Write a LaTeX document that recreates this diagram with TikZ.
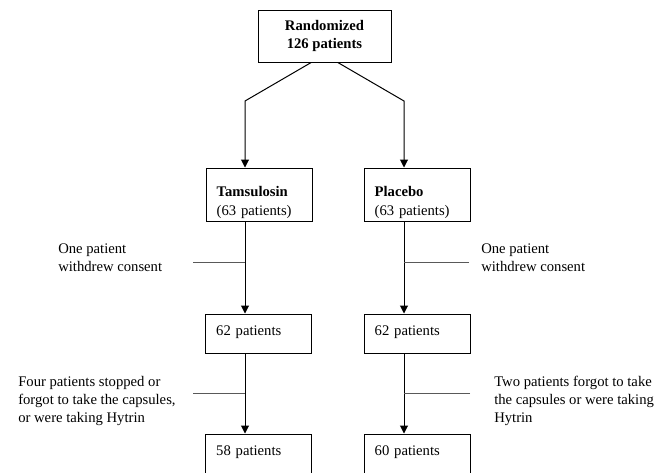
\documentclass[tikz,border=0pt]{standalone}
\usepackage{fontspec}
\setmainfont{Liberation Serif}
\usetikzlibrary{arrows.meta}

\tikzset{
  txt/.style={font=\fontsize{11}{13.8}\selectfont},
  arm/.style={txt, draw, line width=0.75pt, inner xsep=8pt, inner ysep=0pt,
    text width=63.5pt, align=left, minimum height=29.25pt, text depth=4pt},
  note/.style={txt, inner sep=0pt, align=left, anchor=west},
  flow/.style={line width=0.75pt, -{Triangle[length=6pt,width=6pt]}},
  side/.style={line width=0.75pt, black!65}
}

\begin{document}
\begin{tikzpicture}[x=0.75pt,y=-0.75pt]
	\useasboundingbox (0,0) rectangle (670,472);
	% boxes of the trial
	\node[draw, line width=0.75pt, font={\fontsize{11}{13.8}\selectfont\bfseries},
	  align=center, minimum width=99.75pt, minimum height=39pt] (rand) at (324.5,36) {Randomized\\126 patients};
	\node[arm, minimum height=39.75pt] (tam) at (259,194.5) {\textbf{Tamsulosin}\\(63 patients)};
	\node[arm, minimum height=39.75pt] (plc) at (417,194.5) {\textbf{Placebo}\\(63 patients)};
	\node[arm] (tamA) at (258.5,333.5) {62 patients};
	\node[arm] (plcA) at (417,333.5) {62 patients};
	\node[arm] (tamB) at (258.5,453.5) {58 patients};
	\node[arm] (plcB) at (417,453.5) {60 patients};
	% reasons for leaving
	\node[note] (wdL) at (58,257.5) {One patient\\withdrew consent};
	\node[note] (wdR) at (481,257.5) {One patient\\withdrew consent};
	\node[note] (stopL) at (18,401) {Four patients stopped or\\forgot to take the capsules,\\or were taking Hytrin};
	\node[note] (stopR) at (494,401) {Two patients forgot to take\\the capsules or were taking\\Hytrin};
	% arrows down
	\coordinate (bendL) at (245,101);
	\coordinate (bendR) at (404,101);
	\draw[flow] ([xshift=-10pt]rand.south) -- (bendL) -- (bendL |- tam.north);
	\draw[flow] ([xshift=10pt]rand.south) -- (bendR) -- (bendR |- plc.north);
	\draw[flow] (bendL |- tam.south) -- (bendL |- tamA.north);
	\draw[flow] (bendR |- plc.south) -- (bendR |- plcA.north);
	\draw[flow] (bendL |- tamA.south) -- (bendL |- tamB.north);
	\draw[flow] (bendR |- plcA.south) -- (bendR |- plcB.north);
	% side lines
	\coordinate (outL1) at (193,262);
	\coordinate (outR1) at (469,262);
	\coordinate (outL2) at (193,393);
	\coordinate (outR2) at (470,393);
	\draw[side] (outL1) -- (outL1 -| bendL);
	\draw[side] (outR1) -- (outR1 -| bendR);
	\draw[side] (outL2) -- (outL2 -| bendL);
	\draw[side] (outR2) -- (outR2 -| bendR);
\end{tikzpicture}
\end{document}
